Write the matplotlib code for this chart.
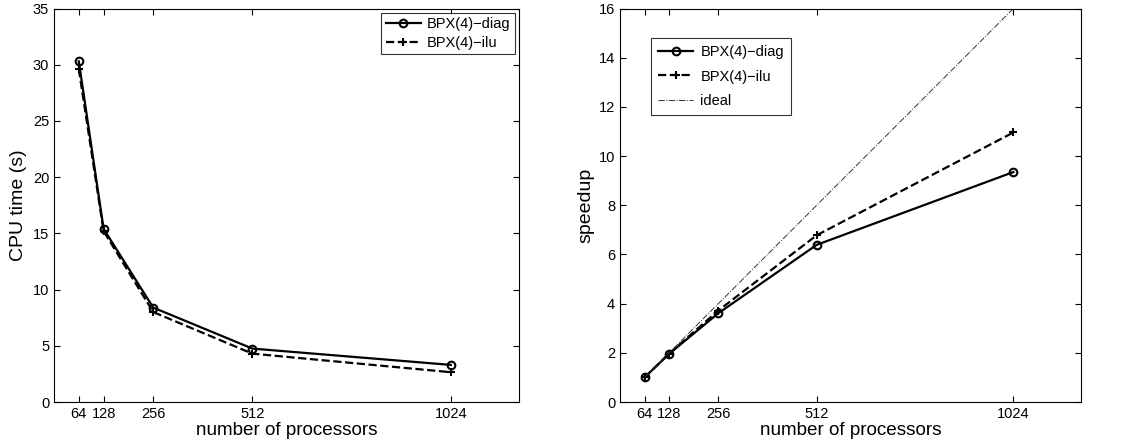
"""
CPU time and speedup of BPX(4) preconditioners vs. number of processors.
"""

import numpy as np
import matplotlib
matplotlib.use("Agg")
import matplotlib.pyplot as plt

plt.rcParams['font.family'] = ['Liberation Sans', 'DejaVu Sans']

# data
procs = [64, 128, 256, 512, 1024]
time_diag = [30.3, 15.4, 8.4, 4.75, 3.3]
time_ilu = [29.6, 15.2, 8.0, 4.3, 2.65]
speedup_diag = [1.0, 1.96, 3.61, 6.39, 9.35]
speedup_ilu = [1.0, 1.97, 3.72, 6.78, 10.96]
speedup_ideal = [1, 2, 4, 8, 16]


def style_axes(ax):
    """MATLAB-like axes: inward ticks on all sides."""
    ax.tick_params(direction='in', top=True, right=True, labelsize=10.5, length=4)
    ax.set_xlim(0, 1200)
    ax.set_xticks(procs)
    ax.set_xlabel('number of processors', fontsize=13.6, labelpad=1)
    for s in ax.spines.values():
        s.set_linewidth(0.8)


fig = plt.figure(figsize=(11.27, 4.45), dpi=100)
W, H = 1127, 445

# left: CPU time
ax1 = fig.add_axes([54 / W, 43 / H, 465 / W, 393.5 / H])
ax1.plot(procs, time_diag, 'k-', marker='o', markersize=5.5, markerfacecolor='none',
         markeredgewidth=1.5, linewidth=1.6, label='BPX(4)\u2212diag')
ax1.plot(procs, time_ilu, 'k--', marker='+', markersize=5.5, markeredgewidth=1.5,
         linewidth=1.6, label='BPX(4)\u2212ilu')
ax1.set_ylim(0, 35)
ax1.set_yticks(np.arange(0, 36, 5))
ax1.set_ylabel('CPU time (s)', fontsize=14, labelpad=4)
style_axes(ax1)
leg1 = ax1.legend(loc='upper right', fontsize=10.5, fancybox=False, edgecolor='black',
                  borderaxespad=0.3, handlelength=2.4, labelspacing=0.3,
                  borderpad=0.3, handletextpad=0.4)
leg1.get_frame().set_linewidth(0.8)

# right: speedup
ax2 = fig.add_axes([620 / W, 43 / H, 461 / W, 393.5 / H])
ax2.plot(procs, speedup_diag, 'k-', marker='o', markersize=5.5, markerfacecolor='none',
         markeredgewidth=1.5, linewidth=1.6, label='BPX(4)\u2212diag')
ax2.plot(procs, speedup_ilu, 'k--', marker='+', markersize=5.5, markeredgewidth=1.5,
         linewidth=1.6, label='BPX(4)\u2212ilu')
ax2.plot(procs, speedup_ideal, color='#333333', linestyle='-.', linewidth=0.7,
         label='ideal')
ax2.set_ylim(0, 16)
ax2.set_yticks(np.arange(0, 17, 2))
ax2.set_ylabel('speedup', fontsize=14, labelpad=3)
style_axes(ax2)
leg2 = ax2.legend(loc='upper left', bbox_to_anchor=(0.067, 0.925), borderaxespad=0,
                  fontsize=10.5, fancybox=False, edgecolor='black', handlelength=2.4,
                  labelspacing=0.7, borderpad=0.5, handletextpad=0.5)
leg2.get_frame().set_linewidth(0.8)

fig.savefig('out.png', dpi=100)
